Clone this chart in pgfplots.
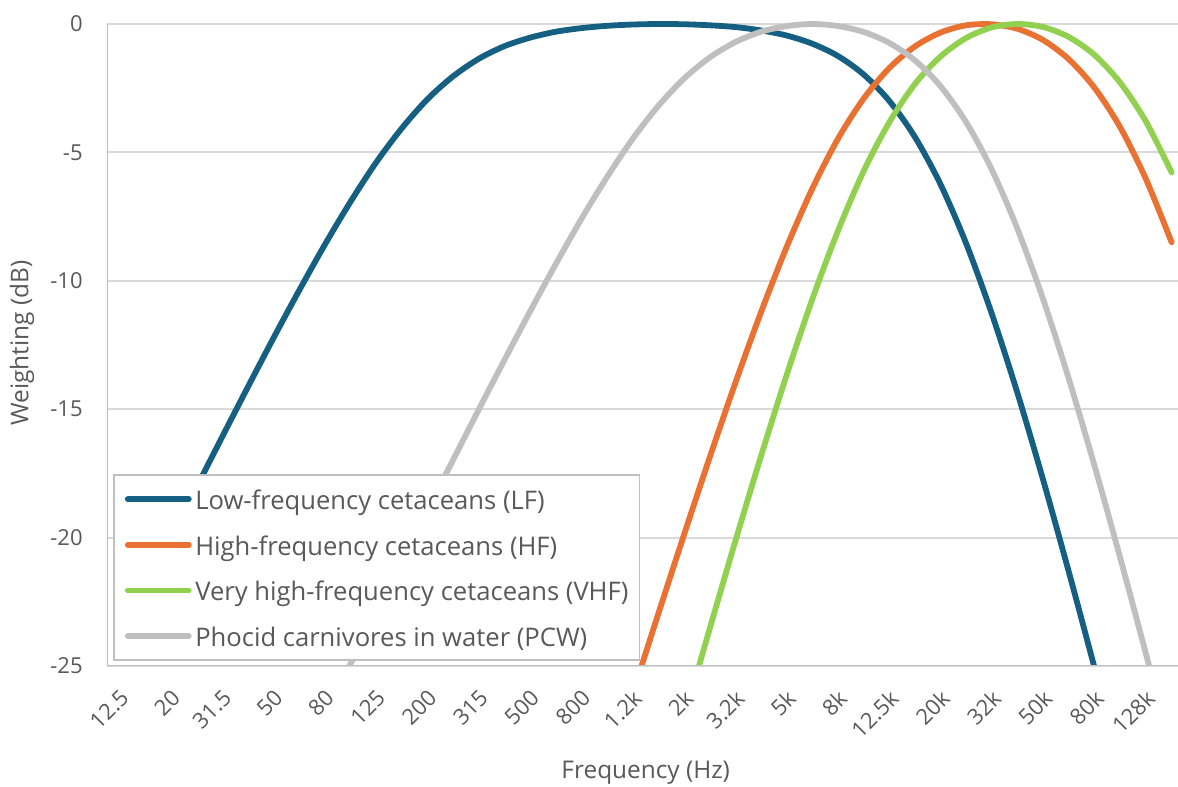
\documentclass[border=0pt]{standalone}
\usepackage{pgfplots}
\pgfplotsset{compat=1.18}
\usepackage{pgfplotstable}
\usepackage{fontspec}
\setmainfont{Open Sans}

\definecolor{lfblue}{HTML}{156082}
\definecolor{hforange}{HTML}{E97132}
\definecolor{vhfgreen}{HTML}{92D050}
\definecolor{pcwgray}{HTML}{BFBFBF}
\definecolor{txtgray}{HTML}{595959}
\definecolor{gridgray}{HTML}{D9D9D9}
\definecolor{axgray}{HTML}{BFBFBF}

% x = band index (0 = 12.5 Hz ... 41 = 160 kHz), w = weighting in dB
\pgfplotstableread{
i  w
0  -23.97
1  -21.98
2  -20.00
3  -18.02
4  -16.06
5  -14.12
6  -12.21
7  -10.36
8  -8.58
9  -6.91
10 -5.38
11 -4.05
12 -2.92
13 -2.03
14 -1.35
15 -0.86
16 -0.53
17 -0.30
18 -0.16
19 -0.07
20 -0.02
21 0.00
22 -0.01
23 -0.05
24 -0.12
25 -0.25
26 -0.45
27 -0.77
28 -1.25
29 -1.97
30 -3.00
31 -4.41
32 -6.26
33 -8.57
34 -11.31
35 -14.40
36 -17.78
37 -21.36
38 -25.09
39 -28.91
40 -32.80
41 -36.72
}\lfdata

\pgfplotstableread{
i  w
18 -32.38
19 -29.21
20 -26.06
21 -22.94
22 -19.87
23 -16.86
24 -13.96
25 -11.21
26 -8.67
27 -6.40
28 -4.46
29 -2.90
30 -1.71
31 -0.87
32 -0.33
33 -0.05
34 -0.01
35 -0.19
36 -0.63
37 -1.38
38 -2.49
39 -4.03
40 -6.04
41 -8.50
}\hfdata

\pgfplotstableread{
i  w
20 -34.09
21 -30.54
22 -27.01
23 -23.53
24 -20.12
25 -16.81
26 -13.65
27 -10.70
28 -8.04
29 -5.72
30 -3.82
31 -2.33
32 -1.26
33 -0.54
34 -0.13
35 0.00
36 -0.12
37 -0.51
38 -1.21
39 -2.29
40 -3.80
41 -5.78
}\vhfdata

\pgfplotstableread{
i  w
6  -30.89
7  -28.89
8  -26.89
9  -24.90
10 -22.91
11 -20.92
12 -18.93
13 -16.96
14 -15.00
15 -13.07
16 -11.18
17 -9.34
18 -7.58
19 -5.95
20 -4.46
21 -3.18
22 -2.12
23 -1.30
24 -0.70
25 -0.30
26 -0.08
27 0.00
28 -0.08
29 -0.31
30 -0.74
31 -1.42
32 -2.43
33 -3.84
34 -5.69
35 -8.00
36 -10.74
37 -13.84
38 -17.22
39 -20.80
40 -24.53
41 -28.35
}\pcwdata

\begin{document}
\begin{tikzpicture}
\begin{axis}[
    name=ax,
    scale only axis,
    width=535.5pt, height=322.9pt,
    xmin=-0.5, xmax=41.25,
    ymin=-25, ymax=0.15,
    axis line style={draw=none},
    major tick length=0pt,
    ytick={-25,-20,-15,-10,-5,0},
    yticklabels={-25,-20,-15,-10,-5,0},
    xtick={0,2,...,40},
    xticklabels={12.5,20,31.5,50,80,125,200,315,500,800,1.2k,2k,3.2k,5k,8k,12.5k,20k,32k,50k,80k,128k},
    ymajorgrids,
    grid style={gridgray, line width=1pt},
    tick label style={font=\fontsize{11}{13}\selectfont, text=txtgray},
    yticklabel style={inner sep=0pt, anchor=east, xshift=-12pt},
    xticklabel style={inner sep=0pt, xshift=2.5pt, yshift=-14pt, rotate=45, anchor=east},
    xlabel={Frequency (Hz)},
    ylabel={Weighting (dB)},
    label style={font=\fontsize{12.2}{14}\selectfont, text=txtgray},
    xlabel style={at={(axis description cs:0.503,0)}, anchor=center, yshift=-53.5pt},
    ylabel style={at={(axis description cs:-0.0794,0.5)}, anchor=center, rotate=0},
    every axis plot/.append style={line width=2.9pt, line cap=round, line join=round, smooth, no markers},
    legend image code/.code={\draw[#1] (0pt,0pt) -- (30.5pt,0pt);},
    legend cell align=left,
    legend style={
      at={(axis description cs:0,0)}, anchor=south west, xshift=3pt, yshift=2.5pt,
      draw=axgray, line width=0.9pt, fill=white,
      font=\fontsize{12.8}{15}\selectfont, text=txtgray,
      inner xsep=5.5pt, inner ysep=6pt,
      nodes={inner sep=0pt, text height=11.2pt, text depth=0.8pt},
      row sep=10.8pt,
      /tikz/every odd column/.append style={column sep=1.8pt},
    },
  ]
  \addplot[lfblue] table[x=i, y=w] {\lfdata};
  \addplot[hforange] table[x=i, y=w] {\hfdata};
  \addplot[vhfgreen] table[x=i, y=w] {\vhfdata};
  \addplot[pcwgray] table[x=i, y=w] {\pcwdata};
  \legend{Low-frequency cetaceans (LF), High-frequency cetaceans (HF), Very high-frequency cetaceans (VHF), Phocid carnivores in water (PCW)}
  \draw[axgray, line width=1pt] (axis cs:-0.5,0) -- (axis cs:-0.5,-25) -- (axis cs:41.25,-25);
\end{axis}
\pgfresetboundingbox
\path[use as bounding box] ([xshift=-53.5pt, yshift=-60.5pt]ax.south west) rectangle ([yshift=10.08pt]ax.north east);
\end{tikzpicture}
\end{document}
